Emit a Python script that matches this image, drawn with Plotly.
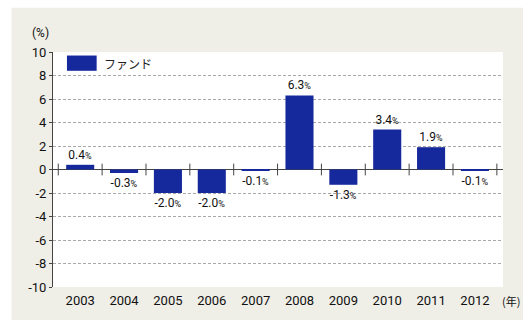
import plotly.graph_objects as go

years = ["2003", "2004", "2005", "2006", "2007", "2008", "2009", "2010", "2011", "2012"]
fund = [0.4, -0.3, -2.0, -2.0, -0.1, 6.3, -1.3, 3.4, 1.9, -0.1]
y_ticks = [10, 8, 6, 4, 2, 0, -2, -4, -6, -8, -10]
series_name = "ファンド"

BAR = "#15299c"
BEIGE = "#efeee7"
NUM_FONT = "Roboto, Noto Sans CJK JP, sans-serif"
JP_FONT = "Noto Sans CJK JP, sans-serif"

labels = [f"{v:.1f}<span style='font-size:9px'>%</span>" for v in fund]

fig = go.Figure()
fig.add_trace(go.Bar(
    x=years, y=fund, name=series_name, marker=dict(color=BAR, line=dict(width=0)),
    text=labels, textposition="outside", cliponaxis=False,
    textfont=dict(family=NUM_FONT, size=12, color="#111"),
    showlegend=False,
))

shapes = [
    dict(type="rect", xref="paper", yref="paper", x0=-0.092, x1=1.05, y0=-0.15, y1=1.188,
         fillcolor=BEIGE, line=dict(width=0), layer="below"),
    dict(type="rect", xref="paper", yref="paper", x0=0, x1=1, y0=0, y1=1,
         fillcolor="white", line=dict(width=0), layer="below"),
    # legend swatch
    dict(type="rect", xref="paper", yref="paper", x0=0.031, x1=0.097, y0=0.92, y1=0.985,
         fillcolor=BAR, line=dict(width=0), layer="above"),
]
# tick marks crossing the zero line at category boundaries
for i in range(len(years) + 1):
    shapes.append(dict(type="line", xref="x", yref="y", x0=i - 0.5, x1=i - 0.5, y0=-0.5, y1=0.5,
                       line=dict(color="#444", width=1), layer="above"))

annotations = [
    dict(text=series_name, xref="paper", yref="paper", x=0.108, y=0.952, xanchor="left", yanchor="middle",
         showarrow=False, font=dict(family=JP_FONT, size=12, color="#222")),
    dict(text="(%)", xref="paper", yref="paper", x=-0.005, y=1.08, xanchor="right", yanchor="middle",
         showarrow=False, font=dict(family=NUM_FONT, size=12, color="#111")),
    dict(text="(年)", xref="paper", yref="paper", x=0.994, y=-0.06, xanchor="left", yanchor="middle",
         showarrow=False, font=dict(family=JP_FONT, size=11, color="#111")),
]

fig.update_layout(
    width=523, height=320,
    margin=dict(l=53, r=20, t=52, b=33),
    paper_bgcolor="white", plot_bgcolor="rgba(0,0,0,0)",
    bargap=0.36,
    shapes=shapes, annotations=annotations,
    showlegend=False,
)
fig.update_xaxes(
    type="category", range=[-0.62, 9.64], showgrid=False, showline=False, ticks="",
    tickfont=dict(family=NUM_FONT, size=13, color="#111"), ticklabelstandoff=4,
)
fig.update_yaxes(
    range=[-10, 10], tickvals=y_ticks, ticktext=[str(v) for v in y_ticks],
    showgrid=True, gridcolor="#a8a8a8", griddash="3px,2px", gridwidth=1,
    zeroline=True, zerolinecolor="#444", zerolinewidth=1,
    showline=True, linecolor="#444", linewidth=1, ticks="outside", ticklen=3, tickcolor="#444",
    tickfont=dict(family=NUM_FONT, size=13, color="#111"),
)

fig.write_html("out.html")
